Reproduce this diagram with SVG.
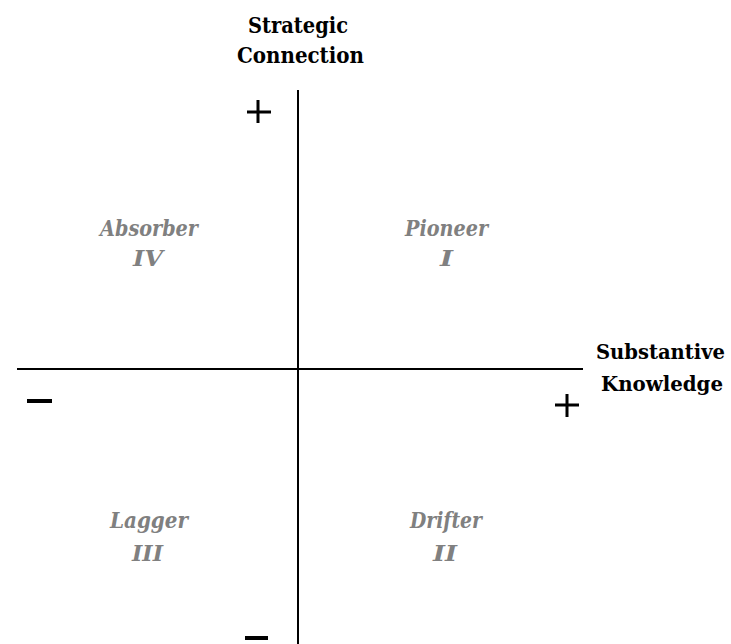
<svg xmlns="http://www.w3.org/2000/svg" width="731" height="644" viewBox="0 0 731 644">
<style>
.axis{stroke:#000;stroke-width:2;fill:none}
.sign{stroke:#000;stroke-width:3;fill:none}
.minus{stroke:#000;stroke-width:4;fill:none}
.title{font-family:"DejaVu Serif",serif;font-weight:bold;font-size:23px;fill:#000}
.xt{font-family:"DejaVu Serif",serif;font-weight:bold;font-size:20px;fill:#000}
.q{font-family:"DejaVu Serif",serif;font-weight:bold;font-style:italic;font-size:22px;fill:#808080}
</style>
<rect width="731" height="644" fill="#fff"/>
<g id="connectors">
<line class="axis" x1="298" y1="90" x2="298" y2="644"/>
<line class="axis" x1="17" y1="369" x2="583" y2="369"/>
</g>
<g id="signs">
<path class="sign" d="M247 112 H271 M258 100 V123"/>
<path class="minus" d="M27 401 H52"/>
<path class="sign" d="M555 405 H579 M567 394 V417"/>
<path class="minus" d="M245 638 H268"/>
</g>
<g id="y-title">
<text class="title" x="248" y="33" textLength="100" lengthAdjust="spacingAndGlyphs">Strategic</text>
<text class="title" x="237" y="63" textLength="127" lengthAdjust="spacingAndGlyphs">Connection</text>
</g>
<g id="x-title">
<text class="xt" x="596" y="359" textLength="129" lengthAdjust="spacingAndGlyphs">Substantive</text>
<text class="xt" x="601" y="391" textLength="122" lengthAdjust="spacingAndGlyphs">Knowledge</text>
</g>
<g id="q4">
<text class="q" x="100" y="236" textLength="98" lengthAdjust="spacingAndGlyphs">Absorber</text>
<text class="q" x="133" y="266" textLength="30" lengthAdjust="spacingAndGlyphs">IV</text>
</g>
<g id="q1">
<text class="q" x="405" y="236" textLength="83" lengthAdjust="spacingAndGlyphs">Pioneer</text>
<text class="q" x="440" y="266" textLength="13" lengthAdjust="spacingAndGlyphs">I</text>
</g>
<g id="q3">
<text class="q" x="110" y="528" textLength="78" lengthAdjust="spacingAndGlyphs">Lagger</text>
<text class="q" x="132" y="561" textLength="31" lengthAdjust="spacingAndGlyphs">III</text>
</g>
<g id="q2">
<text class="q" x="410" y="528" textLength="72" lengthAdjust="spacingAndGlyphs">Drifter</text>
<text class="q" x="433" y="561" textLength="24" lengthAdjust="spacingAndGlyphs">II</text>
</g>
</svg>
